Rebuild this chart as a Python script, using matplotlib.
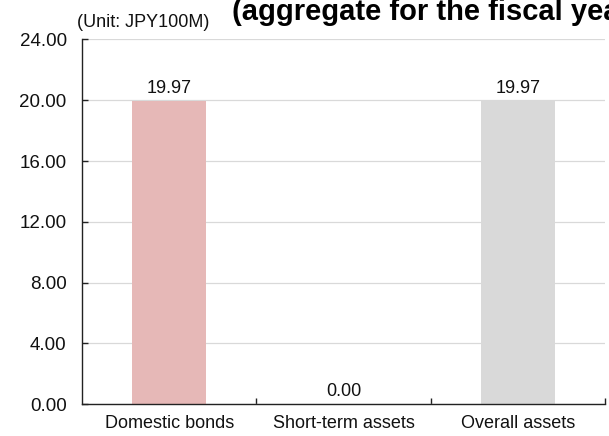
import matplotlib.pyplot as plt

categories = ["Domestic bonds", "Short-term assets", "Overall assets"]
values = [19.97, 0.00, 19.97]
bar_colors = ["#e6b8b7", "#e6b8b7", "#d9d9d9"]
y_ticks = [0, 4, 8, 12, 16, 20, 24]

plt.rcParams['font.family'] = ['Liberation Sans', 'DejaVu Sans']


def main():
    fig = plt.figure(figsize=(6.09, 4.36), dpi=100)
    ax = fig.add_axes([82 / 609, 32 / 436, 523 / 609, 364.5 / 436])

    xs = list(range(len(categories)))
    ax.bar(xs, values, width=0.425, color=bar_colors, zorder=2)
    for x, v in zip(xs, values):
        ax.annotate(f"{v:.2f}", (x, v), xytext=(0, 5.5), textcoords="offset points",
                    ha="center", va="baseline", fontsize=13, color="#111111")

    ax.set_xlim(-0.5, len(categories) - 0.5)
    ax.set_ylim(0, 24)
    ax.set_yticks(y_ticks)
    ax.set_yticklabels([f"{t:.2f}" for t in y_ticks])
    ax.set_xticks(xs)
    ax.set_xticklabels(categories)
    ax.set_xticks([0.5, 1.5, 2.5], minor=True)

    ax.grid(axis="y", color="#d9d9d9", linewidth=0.9, zorder=0)
    ax.set_axisbelow(True)
    for side in ("top", "right"):
        ax.spines[side].set_visible(False)
    for side in ("left", "bottom"):
        ax.spines[side].set_color("#222222")
        ax.spines[side].set_linewidth(1.0)

    ax.tick_params(axis="y", direction="in", length=4, width=1.0, pad=11,
                   labelsize=13.5, colors="#222222", labelcolor="#111111")
    ax.tick_params(axis="x", which="major", length=0, pad=8, labelsize=13,
                   labelcolor="#111111")
    ax.tick_params(axis="x", which="minor", direction="in", length=4, width=1.0,
                   colors="#222222")

    fig.text(77 / 609, 1 - 27 / 436, "(Unit: JPY100M)", fontsize=13,
             ha="left", va="baseline", color="#111111")
    # second title line; the first one sits above the canvas
    fig.text(232 / 609, 1 - 20 / 436, "(aggregate for the fiscal year)",
             fontsize=21, fontweight="bold", ha="left", va="baseline", color="#000000")

    fig.savefig("out.png", dpi=100)


if __name__ == "__main__":
    main()
